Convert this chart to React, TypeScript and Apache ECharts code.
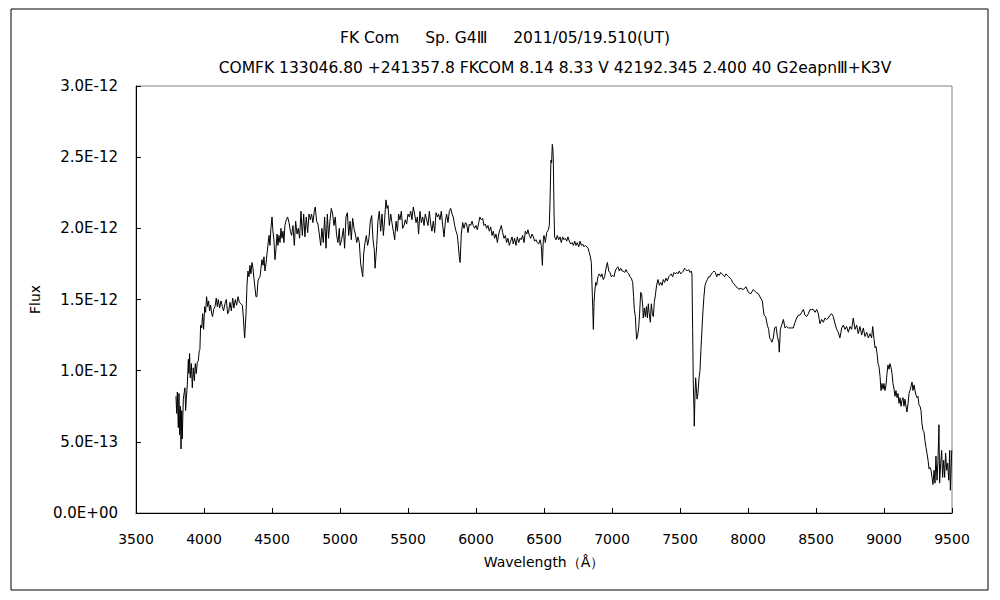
import React, { useEffect, useRef } from 'react';
import * as echarts from 'echarts';

// ---- texts ----
const titleLine1 = 'FK Com\u3000  Sp. G4\u2162\u3000  2011/05/19.510(UT)';
const titleLine2 = 'COMFK 133046.80 +241357.8 FKCOM 8.14 8.33 V 42192.345 2.400 40 G2eapn\u2162+K3V';
const xAxisName = 'Wavelength\uFF08\u00C5\uFF09';
const yAxisName = 'Flux';

// ---- axes (x in Angstrom, y in units of 1e-12) ----
const xMin = 3500;
const xMax = 9500;
const xStep = 500;
const yMin = 0;
const yMax = 3;
const yStep = 0.5;
const fluxUnitExp = -12;

// ---- spectrum: [wavelength (A), flux (1e-12 units)] ----
const spectrumBlue: [number, number][] = [
  [3794, 0.82], [3799, 0.70], [3804, 0.85], [3811, 0.60], [3816, 0.84], [3821, 0.55], [3826, 0.75],
  [3831, 0.45], [3836, 0.72], [3840, 0.52], [3848, 0.80], [3855, 0.85], [3860, 0.88], [3865, 0.72],
  [3870, 0.80], [3877, 0.90], [3885, 1.08], [3889, 0.98], [3894, 1.12], [3899, 0.95], [3907, 1.05],
  [3914, 0.88], [3921, 1.02], [3929, 0.93], [3936, 1.05], [3943, 0.98], [3951, 1.06], [3958, 1.07],
  [3965, 1.14], [3970, 1.15], [3975, 1.32], [3983, 1.30], [3990, 1.40], [3997, 1.29], [4005, 1.45],
  [4012, 1.41], [4019, 1.52], [4027, 1.45], [4034, 1.49], [4041, 1.42], [4049, 1.46], [4056, 1.40],
  [4063, 1.38], [4071, 1.43], [4081, 1.45], [4090, 1.51], [4098, 1.45], [4105, 1.50], [4115, 1.44],
  [4125, 1.49], [4135, 1.45], [4144, 1.42], [4154, 1.47], [4164, 1.50], [4174, 1.40], [4181, 1.41],
  [4191, 1.48], [4201, 1.42], [4211, 1.51], [4220, 1.44], [4230, 1.50], [4240, 1.46], [4250, 1.52],
  [4260, 1.48], [4272, 1.47], [4282, 1.46], [4289, 1.38], [4294, 1.30], [4299, 1.23], [4304, 1.32],
  [4309, 1.40], [4316, 1.60], [4323, 1.70], [4331, 1.66], [4338, 1.74], [4345, 1.68], [4353, 1.76],
  [4360, 1.72], [4367, 1.65], [4375, 1.58], [4382, 1.52], [4389, 1.52], [4397, 1.63], [4404, 1.65],
  [4412, 1.66], [4419, 1.72], [4426, 1.78], [4434, 1.74], [4441, 1.80], [4448, 1.70], [4456, 1.75],
  [4463, 1.82], [4470, 1.88], [4478, 1.95], [4485, 1.88], [4492, 2.00], [4500, 2.08], [4507, 1.98],
  [4514, 1.92], [4522, 1.78], [4529, 1.85], [4537, 1.96], [4544, 1.88], [4551, 1.95], [4559, 1.90],
  [4566, 2.00], [4573, 1.93], [4581, 1.98], [4588, 1.90], [4595, 2.02], [4605, 2.06], [4615, 2.08],
  [4625, 2.04], [4635, 1.98], [4644, 1.95], [4654, 2.02], [4664, 1.88], [4674, 2.05], [4684, 1.96],
  [4693, 2.00], [4703, 1.93], [4713, 2.12], [4723, 1.95], [4733, 2.10], [4742, 1.94], [4752, 2.08],
  [4762, 1.97], [4772, 2.10], [4782, 2.06], [4791, 2.10], [4801, 2.04], [4811, 2.12], [4818, 2.15],
  [4828, 2.05], [4838, 2.03], [4848, 1.96], [4858, 1.88], [4867, 2.00], [4877, 1.90], [4887, 2.08],
  [4897, 1.86], [4907, 2.10], [4916, 1.93], [4926, 2.05], [4936, 2.14], [4946, 2.10], [4956, 2.02],
  [4965, 2.08], [4975, 1.95], [4985, 1.90], [4995, 2.00],
];

const spectrumGreen: [number, number][] = [
  [5000, 1.88], [5012, 1.92], [5025, 2.00], [5034, 1.86], [5044, 2.08], [5054, 2.11], [5064, 1.95],
  [5074, 2.05], [5083, 1.92], [5093, 2.07], [5103, 2.00], [5113, 1.96], [5123, 1.90], [5132, 1.94],
  [5142, 1.90], [5152, 1.75], [5162, 1.69], [5167, 1.66], [5174, 1.82], [5184, 1.90], [5194, 1.95],
  [5203, 1.88], [5213, 1.93], [5223, 2.05], [5233, 2.09], [5243, 1.92], [5252, 1.85], [5258, 1.72],
  [5270, 1.88], [5279, 2.05], [5289, 2.12], [5299, 1.98], [5309, 2.10], [5319, 1.95], [5328, 2.06],
  [5338, 2.20], [5346, 2.14], [5353, 2.16], [5363, 2.02], [5373, 2.10], [5382, 2.04], [5392, 1.98],
  [5402, 1.92], [5412, 2.05], [5422, 1.98], [5431, 2.10], [5441, 2.06], [5451, 2.12], [5461, 2.00],
  [5471, 2.02], [5480, 2.06], [5490, 2.03], [5500, 2.10], [5510, 2.08], [5520, 2.12], [5529, 2.06],
  [5539, 2.15], [5549, 2.10], [5559, 2.04], [5569, 2.08], [5578, 1.96], [5588, 2.12], [5598, 2.04],
  [5608, 2.08], [5618, 2.02], [5627, 2.10], [5637, 2.06], [5647, 2.02], [5657, 2.12], [5667, 2.03],
  [5676, 1.98], [5686, 2.05], [5696, 1.97], [5706, 2.11], [5716, 2.08], [5725, 2.10], [5735, 2.06],
  [5745, 2.12], [5755, 2.02], [5765, 1.94], [5775, 2.05], [5784, 2.10], [5794, 2.04], [5804, 2.12],
  [5814, 2.14], [5824, 2.10], [5833, 2.08], [5843, 2.02], [5853, 1.98], [5863, 1.95], [5870, 1.88],
  [5877, 1.80], [5883, 1.76], [5892, 1.96], [5902, 2.04], [5912, 2.00], [5922, 2.04], [5931, 2.03],
  [5941, 1.97], [5951, 2.03], [5961, 2.02], [5971, 2.05], [5980, 2.02], [5990, 2.00], [6000, 2.02],
  [6010, 1.99], [6020, 2.04], [6029, 2.08], [6039, 2.06], [6049, 2.07], [6059, 2.02], [6069, 2.03],
  [6078, 2.00], [6088, 2.02], [6098, 1.98], [6108, 2.01], [6118, 1.95], [6127, 1.98], [6137, 1.93],
  [6147, 1.96], [6157, 1.90], [6167, 1.96], [6176, 1.99], [6186, 2.02], [6196, 1.97], [6206, 1.93],
  [6216, 1.95], [6225, 1.90], [6235, 1.93], [6245, 1.88], [6255, 1.91], [6265, 1.94], [6274, 1.89],
  [6284, 1.93], [6294, 1.88], [6304, 1.94], [6314, 1.90], [6324, 1.93], [6333, 1.92], [6343, 1.95],
  [6353, 1.90], [6363, 1.98], [6373, 1.96], [6382, 1.99], [6392, 1.95], [6402, 1.93], [6412, 1.96],
  [6422, 1.94], [6431, 1.91], [6441, 1.92], [6451, 1.90], [6461, 1.89], [6471, 1.92], [6480, 1.88],
];

const spectrumRed: [number, number][] = [
  [6488, 1.74], [6495, 1.92], [6500, 1.95], [6510, 1.90], [6520, 1.97], [6532, 1.99], [6539, 2.02],
  [6544, 2.18], [6551, 2.48], [6556, 2.46], [6561, 2.59], [6566, 2.55], [6569, 2.45], [6574, 2.10],
  [6578, 1.94], [6588, 1.92], [6598, 1.95], [6608, 1.92], [6618, 1.94], [6627, 1.90], [6637, 1.94],
  [6647, 1.92], [6657, 1.93], [6667, 1.91], [6676, 1.94], [6686, 1.91], [6696, 1.89], [6706, 1.90],
  [6716, 1.88], [6726, 1.91], [6735, 1.88], [6745, 1.90], [6755, 1.87], [6765, 1.91], [6775, 1.88],
  [6784, 1.89], [6794, 1.87], [6804, 1.88], [6814, 1.87], [6824, 1.86], [6833, 1.83], [6841, 1.80],
  [6848, 1.76], [6853, 1.60], [6858, 1.45], [6863, 1.29], [6868, 1.48], [6873, 1.55], [6880, 1.62],
  [6887, 1.60], [6897, 1.66], [6907, 1.68], [6917, 1.66], [6926, 1.68], [6936, 1.64], [6946, 1.66],
  [6956, 1.72], [6966, 1.76], [6976, 1.70], [6985, 1.69], [6995, 1.66], [7005, 1.67], [7015, 1.66],
  [7024, 1.70], [7034, 1.72], [7044, 1.73], [7054, 1.70], [7064, 1.72], [7074, 1.70], [7083, 1.70],
  [7093, 1.69], [7103, 1.71], [7113, 1.69], [7123, 1.68], [7132, 1.66], [7142, 1.65], [7152, 1.62],
  [7159, 1.52], [7164, 1.43], [7172, 1.38], [7176, 1.30], [7181, 1.22], [7189, 1.25], [7196, 1.30],
  [7203, 1.40], [7211, 1.55], [7218, 1.54], [7226, 1.45], [7230, 1.37], [7238, 1.44], [7245, 1.38],
  [7253, 1.45], [7260, 1.37], [7267, 1.47], [7274, 1.40], [7282, 1.34], [7289, 1.47], [7297, 1.40],
  [7304, 1.38], [7311, 1.48], [7319, 1.53], [7328, 1.60], [7338, 1.64], [7348, 1.60], [7358, 1.62],
  [7368, 1.60], [7377, 1.64], [7387, 1.62], [7397, 1.65], [7407, 1.63], [7417, 1.66], [7427, 1.67],
  [7436, 1.68], [7446, 1.66], [7456, 1.69], [7466, 1.68], [7476, 1.69], [7485, 1.68], [7495, 1.70],
  [7505, 1.68], [7515, 1.69], [7525, 1.70], [7534, 1.72], [7544, 1.71], [7554, 1.70], [7564, 1.71],
  [7574, 1.69], [7583, 1.70], [7588, 1.68], [7593, 1.29], [7598, 0.90], [7603, 0.72], [7605, 0.61],
  [7610, 0.82], [7615, 0.95], [7620, 0.88], [7625, 0.80], [7632, 0.84], [7640, 0.95], [7647, 1.00],
  [7654, 1.15], [7662, 1.30], [7669, 1.42], [7676, 1.52], [7684, 1.60], [7691, 1.62], [7701, 1.64],
  [7711, 1.66], [7721, 1.66], [7731, 1.68], [7740, 1.69], [7750, 1.70], [7760, 1.69], [7770, 1.66],
  [7779, 1.68], [7789, 1.67], [7799, 1.69], [7809, 1.68], [7819, 1.67], [7828, 1.66], [7838, 1.68],
  [7848, 1.67], [7858, 1.66], [7868, 1.65], [7878, 1.64], [7887, 1.62], [7897, 1.61], [7912, 1.59],
  [7926, 1.58], [7936, 1.57],
];

const spectrumNearIR: [number, number][] = [
  [7941, 1.58], [7966, 1.57], [7985, 1.59], [8003, 1.55], [8020, 1.54], [8039, 1.57], [8059, 1.55],
  [8076, 1.54], [8093, 1.51], [8105, 1.49], [8118, 1.39], [8130, 1.38], [8142, 1.32], [8152, 1.29],
  [8159, 1.23], [8167, 1.22], [8176, 1.20], [8186, 1.23], [8196, 1.30], [8206, 1.31], [8216, 1.24],
  [8226, 1.20], [8230, 1.13], [8238, 1.29], [8248, 1.32], [8260, 1.36], [8272, 1.30], [8284, 1.31],
  [8297, 1.30], [8309, 1.30], [8321, 1.30], [8333, 1.30], [8346, 1.34], [8358, 1.37], [8370, 1.39],
  [8382, 1.39], [8395, 1.41], [8407, 1.43], [8419, 1.39], [8431, 1.38], [8444, 1.40], [8456, 1.43],
  [8468, 1.43], [8480, 1.43], [8493, 1.41], [8505, 1.43], [8517, 1.40], [8529, 1.33], [8542, 1.36],
  [8554, 1.34], [8566, 1.37], [8578, 1.36], [8591, 1.37], [8603, 1.39], [8615, 1.40], [8627, 1.38],
  [8640, 1.33], [8652, 1.29], [8664, 1.27], [8676, 1.23], [8689, 1.30], [8701, 1.32], [8713, 1.29],
  [8725, 1.31], [8738, 1.27], [8750, 1.31], [8762, 1.29], [8774, 1.37], [8787, 1.29], [8799, 1.32],
  [8811, 1.26], [8823, 1.31], [8836, 1.25], [8848, 1.30], [8860, 1.24], [8873, 1.27], [8885, 1.23],
  [8897, 1.26], [8909, 1.23], [8917, 1.31], [8927, 1.22], [8934, 1.16], [8941, 1.17], [8949, 1.12],
  [8956, 1.05], [8963, 1.03], [8971, 0.96], [8978, 0.86], [8985, 0.91], [8993, 0.87], [9000, 0.91],
  [9007, 0.86], [9015, 0.90], [9022, 0.98], [9029, 1.04], [9037, 1.01], [9044, 1.05], [9052, 1.02],
  [9059, 0.98], [9066, 0.91], [9074, 0.87], [9081, 0.82], [9088, 0.86], [9096, 0.81], [9103, 0.84],
  [9110, 0.77], [9118, 0.81], [9125, 0.75], [9132, 0.79], [9140, 0.81], [9147, 0.75], [9154, 0.80],
  [9162, 0.75], [9169, 0.71], [9177, 0.77], [9184, 0.84], [9191, 0.86], [9199, 0.89], [9206, 0.92],
  [9213, 0.86], [9221, 0.90], [9228, 0.86], [9235, 0.83], [9243, 0.81], [9250, 0.82], [9257, 0.76],
  [9265, 0.75], [9272, 0.72], [9279, 0.63], [9287, 0.58], [9294, 0.57], [9301, 0.51], [9309, 0.46],
  [9316, 0.42], [9324, 0.37], [9331, 0.31], [9338, 0.32], [9346, 0.30], [9353, 0.25], [9360, 0.20],
  [9368, 0.30], [9375, 0.21], [9382, 0.40], [9390, 0.23], [9397, 0.37], [9404, 0.62], [9409, 0.21],
  [9417, 0.35], [9424, 0.44], [9431, 0.25], [9439, 0.37], [9446, 0.25], [9453, 0.42], [9461, 0.30],
  [9468, 0.35], [9476, 0.23], [9483, 0.44], [9488, 0.16], [9495, 0.35], [9498, 0.44],
];

const FONT = "'DejaVu Sans', sans-serif";

function formatFlux(v: number): string {
  const s = (v * Math.pow(10, fluxUnitExp)).toExponential(1);
  const [m, e] = s.split('e');
  const sign = e[0];
  const digits = e.slice(1).padStart(2, '0');
  return `${m}E${sign}${digits}`;
}

function formatWavelength(v: number): string {
  return String(Math.round(v));
}

export default function App() {
  const ref = useRef<HTMLDivElement>(null);
  useEffect(() => {
    if (!ref.current) return;
    const chart = echarts.init(ref.current, undefined, { renderer: 'svg' });
    const spectrum = [...spectrumBlue, ...spectrumGreen, ...spectrumRed, ...spectrumNearIR];
    chart.setOption({
      animation: false,
      backgroundColor: '#ffffff',
      title: [
        {
          text: titleLine1,
          left: 500,
          top: 25,
          textAlign: 'center',
          textStyle: { fontFamily: FONT, fontSize: 15.5, fontWeight: 'normal', color: '#000' },
        },
        {
          text: titleLine2,
          left: 550,
          top: 55,
          textAlign: 'center',
          textStyle: { fontFamily: FONT, fontSize: 15.5, fontWeight: 'normal', color: '#000' },
        },
      ],
      graphic: [
        {
          type: 'rect',
          shape: { x: 11, y: 9, width: 977, height: 581 },
          style: { fill: 'none', stroke: '#000', lineWidth: 1 },
          silent: true,
        },
      ],
      grid: {
        left: 136,
        right: 48,
        top: 86,
        bottom: 87,
        show: true,
        borderColor: '#808080',
        borderWidth: 1,
        backgroundColor: 'transparent',
        outerBoundsMode: 'none',
      },
      xAxis: {
        type: 'value',
        min: xMin,
        max: xMax,
        interval: xStep,
        name: xAxisName,
        nameLocation: 'middle',
        nameGap: 42,
        nameTextStyle: { fontFamily: FONT, fontSize: 14, color: '#000' },
        axisLine: { show: true, onZero: false, lineStyle: { color: '#000', width: 1 } },
        axisTick: { show: true, inside: true, length: 5, lineStyle: { color: '#000' } },
        axisLabel: { fontFamily: FONT, fontSize: 14, color: '#000', margin: 19, formatter: formatWavelength },
        splitLine: { show: false },
      },
      yAxis: {
        type: 'value',
        min: yMin,
        max: yMax,
        interval: yStep,
        name: yAxisName,
        nameLocation: 'middle',
        nameRotate: 90,
        nameGap: 90,
        nameTextStyle: { fontFamily: FONT, fontSize: 14, color: '#000' },
        axisLine: { show: true, onZero: false, lineStyle: { color: '#000', width: 1 } },
        axisTick: { show: true, inside: true, length: 5, lineStyle: { color: '#000' } },
        axisLabel: { fontFamily: FONT, fontSize: 15, color: '#000', margin: 18, formatter: formatFlux },
        splitLine: { show: false },
      },
      series: [
        {
          type: 'line',
          data: spectrum,
          showSymbol: false,
          symbol: 'none',
          lineStyle: { color: '#000', width: 1 },
          silent: true,
        },
      ],
    });
    return () => chart.dispose();
  }, []);
  return (
    <div
      ref={ref}
      style={{ position: 'fixed', left: 0, top: 0, width: 1000, height: 600, background: '#fff' }}
    />
  );
}
